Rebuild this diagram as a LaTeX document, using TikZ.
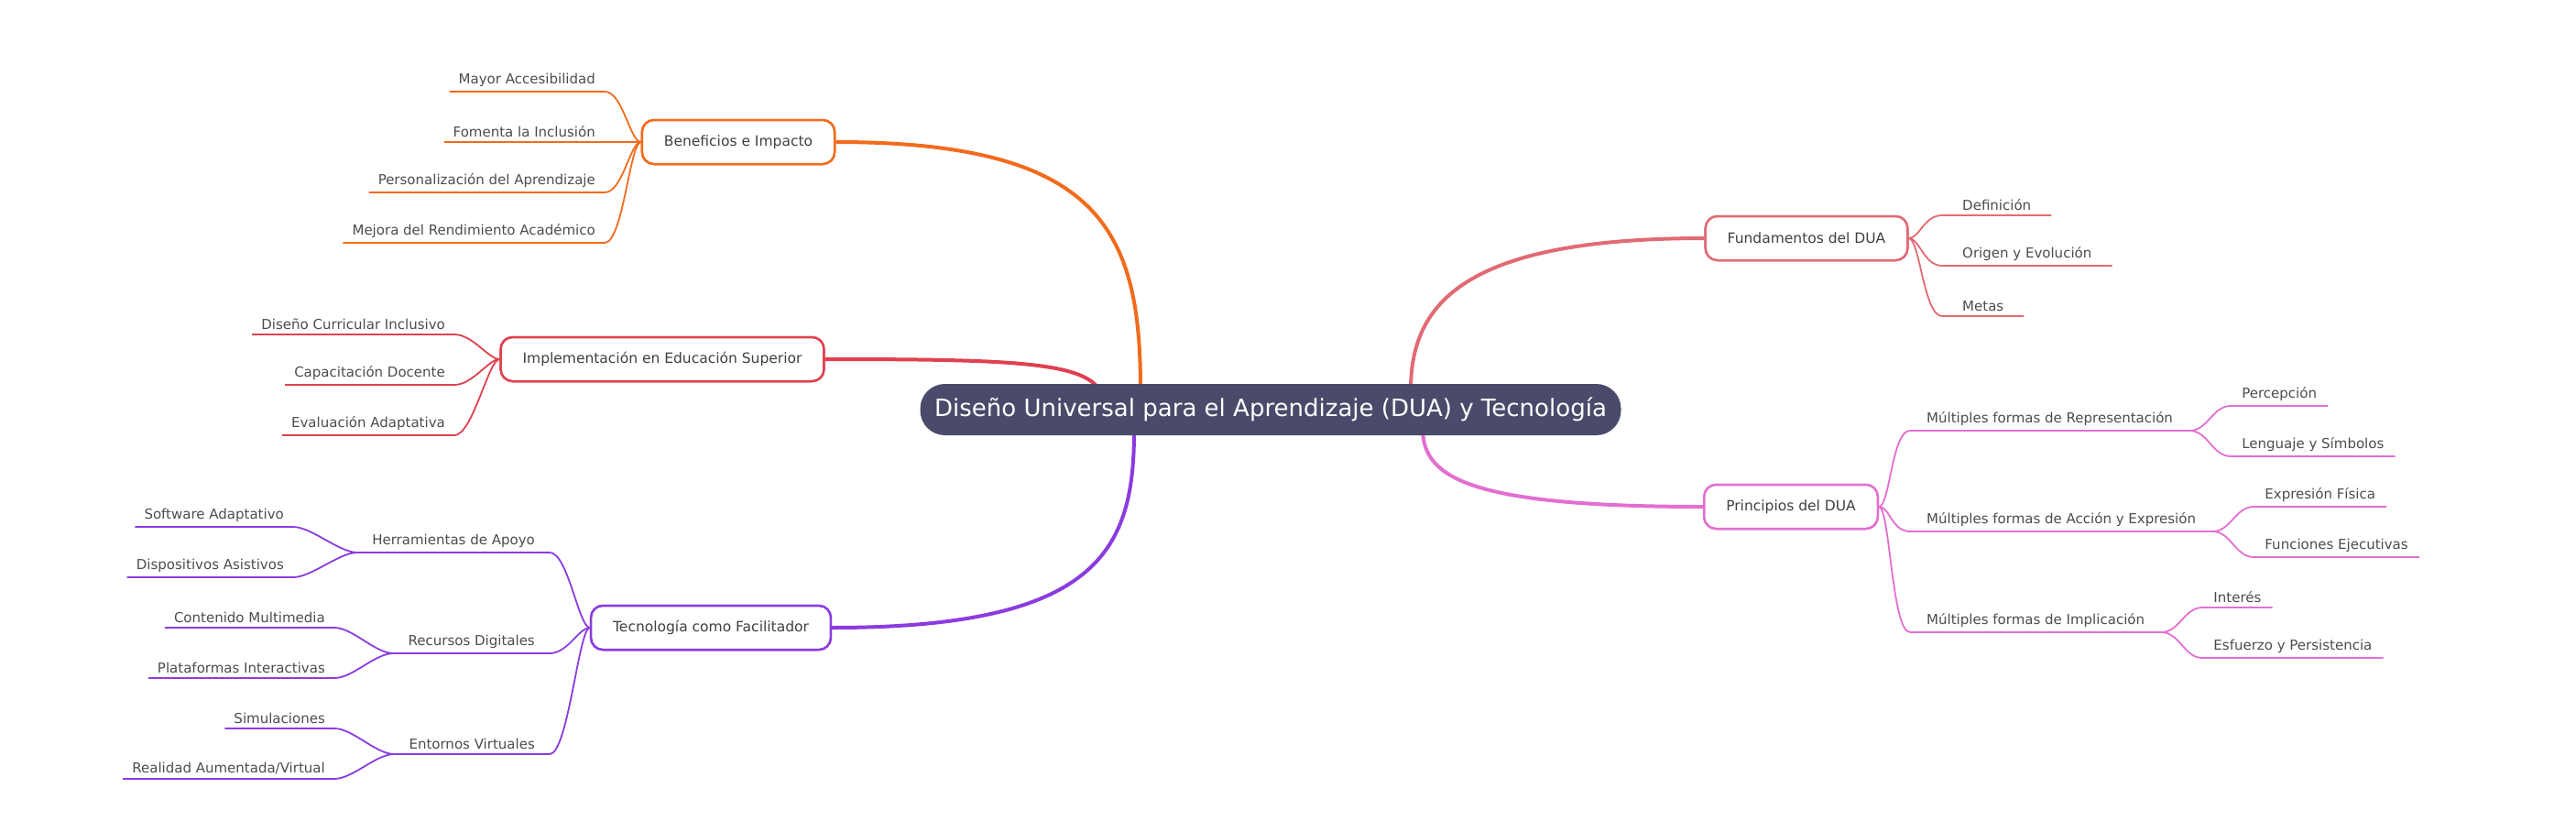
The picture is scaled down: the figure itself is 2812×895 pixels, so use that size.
\documentclass[tikz,border=0pt]{standalone}
\usepackage{fontspec}
\setmainfont{DejaVu Sans}
\begin{document}
\begin{tikzpicture}[x=1pt,y=-1pt,
  lf/.style={font=\fontsize{15}{18}\selectfont, text=black!70, inner xsep=10pt, inner ysep=5pt},
  sub/.style={lf, inner xsep=18pt},
  box/.style={draw=#1, line width=2.5pt, rounded corners=13pt, fill=white, minimum height=48pt, inner xsep=24pt, font=\fontsize{15.5}{18}\selectfont, text=black!75},
  br/.style={draw=#1, line width=4pt},
  ln/.style={draw=#1, line width=1.8pt}]
\definecolor{cO}{HTML}{F26B1D}
\definecolor{cR}{HTML}{E0414F}
\definecolor{cP}{HTML}{8B3CE0}
\definecolor{cF}{HTML}{E06B74}
\definecolor{cK}{HTML}{E36FD0}
\definecolor{rootc}{HTML}{4A4B6A}
\useasboundingbox (0,0) rectangle (2812,895);
% main boxes
\node[box=cO] (ben) at (806,155) {Beneficios e Impacto};
\node[box=cR] (imp) at (723,392) {Implementación en Educación Superior};
\node[box=cP] (tec) at (776,685) {Tecnología como Facilitador};
\node[box=cF] (fun) at (1972,260) {Fundamentos del DUA};
\node[box=cK] (pri) at (1955,553) {Principios del DUA};
% branches
\draw[br=cO] (ben.east) .. controls (1200,155) and (1245,250) .. (1245,425);
\draw[br=cR] (imp.east) .. controls (1100,392) and (1180,395) .. (1200,425);
\draw[br=cP] (tec.east) .. controls (1200,685) and (1238,600) .. (1238,470);
\draw[br=cF] (fun.west) .. controls (1600,260) and (1540,330) .. (1540,425);
\draw[br=cK] (pri.west) .. controls (1600,553) and (1555,520) .. (1553,470);
\node[fill=rootc, rounded corners=27pt, minimum width=765pt, minimum height=56pt, text=white, font=\fontsize{26}{30}\selectfont] (root) at (1387,447) {Diseño Universal para el Aprendizaje (DUA) y Tecnología};
\node[box=cO] at (ben) {Beneficios e Impacto};
\node[box=cR] at (imp) {Implementación en Educación Superior};
\node[box=cP] at (tec) {Tecnología como Facilitador};
\node[box=cF] at (fun) {Fundamentos del DUA};
\node[box=cK] at (pri) {Principios del DUA};
% left leaves
\foreach \n/\y/\t in {b1/100/Mayor Accesibilidad, b2/155/Fomenta la Inclusión, b3/210/Personalización del Aprendizaje, b4/265/Mejora del Rendimiento Académico}{
  \node[lf, anchor=south east] (\n) at (660,\y) {\t};
  \draw[ln=cO] (\n.south west) -- (\n.south east) .. controls +(20,0) and +(-12,0) .. (ben.west);
}
\foreach \n/\y/\t in {i1/365/Diseño Curricular Inclusivo, i2/420/Capacitación Docente, i3/475/Evaluación Adaptativa}{
  \node[lf, anchor=south east] (\n) at (496,\y) {\t};
  \draw[ln=cR] (\n.south west) -- (\n.south east) .. controls +(20,0) and +(-12,0) .. (imp.west);
}
\node[lf, inner xsep=16pt, anchor=south east] (h) at (600,603) {Herramientas de Apoyo};
\node[lf, inner xsep=16pt, anchor=south east] (r) at (600,713) {Recursos Digitales};
\node[lf, inner xsep=16pt, anchor=south east] (e) at (600,823) {Entornos Virtuales};
\foreach \n in {h,r,e}{
  \draw[ln=cP] (\n.south west) -- (\n.south east) .. controls +(20,0) and +(-12,0) .. (tec.west);
}
\foreach \n/\y/\t/\p/\x in {s1/575/Software Adaptativo/h/320, s2/630/Dispositivos Asistivos/h/320, s3/685/Contenido Multimedia/r/365, s4/740/Plataformas Interactivas/r/365, s5/795/Simulaciones/e/365, s6/850/{Realidad Aumentada/Virtual}/e/365}{
  \node[lf, anchor=south east] (\n) at (\x,\y) {\t};
  \draw[ln=cP] (\n.south west) -- (\n.south east) .. controls +(20,0) and +(-20,0) .. (\p.south west);
}
% right
\foreach \n/\y/\t in {f1/235/Definición, f2/290/Origen y Evolución, f3/345/Metas}{
  \node[lf, anchor=south west, inner xsep=22pt] (\n) at (2120,\y) {\t};
  \draw[ln=cF] (fun.east) .. controls +(12,0) and +(-20,0) .. (\n.south west) -- (\n.south east);
}
\node[sub, anchor=south west] (p1) at (2085,470) {Múltiples formas de Representación};
\node[sub, anchor=south west] (p2) at (2085,580) {Múltiples formas de Acción y Expresión};
\node[sub, anchor=south west] (p3) at (2085,690) {Múltiples formas de Implicación};
\foreach \n in {p1,p2,p3}{
  \draw[ln=cK] (pri.east) .. controls +(12,0) and +(-20,0) .. (\n.south west) -- (\n.south east);
}
\foreach \n/\y/\t/\p in {q1/443/Percepción/p1, q2/498/Lenguaje y Símbolos/p1, q3/553/Expresión Física/p2, q4/608/Funciones Ejecutivas/p2, q5/663/Interés/p3, q6/718/Esfuerzo y Persistencia/p3}{
  \node[lf, anchor=south west, inner xsep=12pt] (\n) at ([xshift=45pt]\p.south east |- 0,\y) {\t};
  \draw[ln=cK] (\p.south east) .. controls +(20,0) and +(-20,0) .. (\n.south west) -- (\n.south east);
}
\end{tikzpicture}
\end{document}
